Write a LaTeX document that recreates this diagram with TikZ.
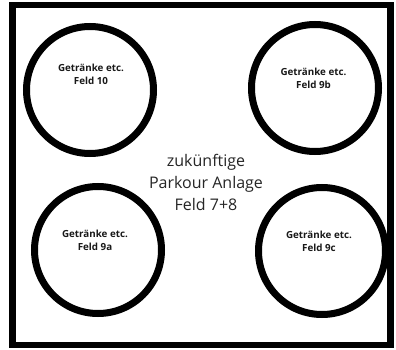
\documentclass[tikz,border=0pt]{standalone}
\usepackage{fontspec}
\setmainfont{Open Sans}
\begin{document}
\begin{tikzpicture}[x=1pt,y=-1pt,
  field/.style={circle,draw=black,line width=7pt,minimum size=127pt,inner sep=0pt},
  fieldtext/.style={align=center,font=\bfseries\fontsize{9.8}{13}\selectfont,inner sep=0pt,text=black!90},
  maintext/.style={align=center,font=\fontsize{16}{22}\selectfont,inner sep=0pt,text=black!85}]
\useasboundingbox[fill=white] (0,0) rectangle (396,350);
\node[draw=black,line width=6.5pt,minimum width=378pt,minimum height=340pt,inner sep=0pt] (frame) at (201.5,175) {};
\node[field] (f10) at (90,90) {};
\node[field] (f9b) at (315,88) {};
\node[field] (f9a) at (98,250) {};
\node[field] (f9c) at (322,251) {};
\node[fieldtext] (t10) at (91,74.5) {Getränke etc.\\Feld 10};
\node[fieldtext] (t9b) at (313.5,78.7) {Getränke etc.\\Feld 9b};
\node[fieldtext] (t9a) at (95,240) {Getränke etc.\\Feld 9a};
\node[fieldtext] (t9c) at (319,241) {Getränke etc.\\Feld 9c};
\node[maintext] (park) at (206,182) {zukünftige\\Parkour Anlage\\Feld 7+8};
\end{tikzpicture}
\end{document}
